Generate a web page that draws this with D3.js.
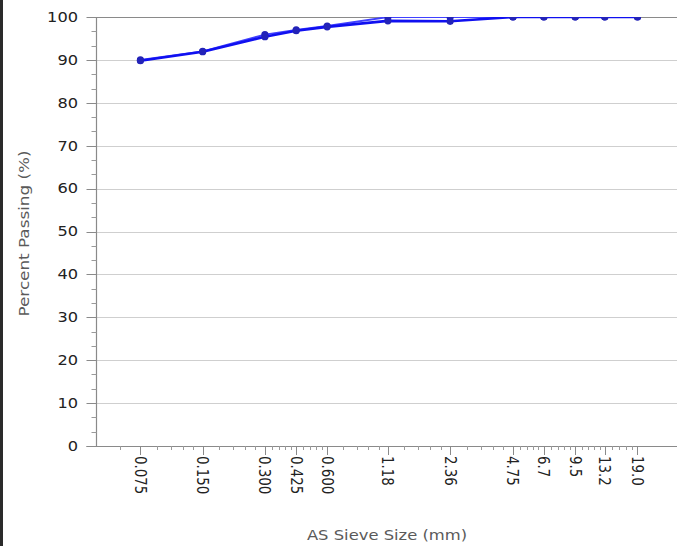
<!DOCTYPE html>
<html>
<head>
<meta charset="utf-8">
<script src="https://cdn.jsdelivr.net/npm/d3@7"></script>
<style>
  html, body { margin: 0; padding: 0; background: #ffffff; }
  svg { display: block; }
  text { font-family: "DejaVu Sans", Verdana, sans-serif; }
</style>
</head>
<body>
<svg id="chart" width="677" height="546"></svg>
<script>
// AS sieve sizes (mm) and percent passing for the two test runs
const sieveSizes = [0.075, 0.150, 0.300, 0.425, 0.600, 1.18, 2.36, 4.75, 6.7, 9.5, 13.2, 19.0];
const sieveLabels = ["0.075", "0.150", "0.300", "0.425", "0.600", "1.18", "2.36", "4.75", "6.7", "9.5", "13.2", "19.0"];
const passingA = [89.8, 91.9, 95.4, 96.8, 97.7, 99.1, 99.0, 100, 100, 100, 100, 100];
const passingB = [90.0, 92.0, 95.9, 97.0, 97.9, 100, 100, 100, 100, 100, 100, 100];
const yTicks = [0, 10, 20, 30, 40, 50, 60, 70, 80, 90, 100];

const svg = d3.select("#chart");
const W = 677, H = 546;
const plotLeft = 96.5, plotTop = 17, plotBottom = 446;

const x = d3.scaleLog().domain([0.046, 30]).range([plotLeft, plotLeft + 206.8 * Math.log10(30 / 0.046)]);
const y = d3.scaleLinear().domain([0, 100]).range([plotBottom, plotTop]);
const plotRight = x.range()[1];

// dark frame edge on the left
svg.append("rect").attr("x", 0).attr("y", 0).attr("width", 3).attr("height", H).attr("fill", "#2a2a2a");

// horizontal gridlines
svg.append("g").selectAll("line").data(yTicks.filter(d => d > 0 && d < 100)).join("line")
  .attr("x1", plotLeft).attr("x2", plotRight)
  .attr("y1", d => Math.round(y(d)) + 0.5).attr("y2", d => Math.round(y(d)) + 0.5)
  .attr("stroke", "#cfcfcf").attr("stroke-width", 1);

// top border of the plot
svg.append("line").attr("x1", plotLeft).attr("x2", plotRight)
  .attr("y1", y(100) + 0.5).attr("y2", y(100) + 0.5)
  .attr("stroke", "#8a8a8a").attr("stroke-width", 1.2);

// y axis with minor ticks at thirds
const yMinor = [];
for (let v = 0; v < 100; v += 10) { yMinor.push(v + 10 / 3, v + 20 / 3); }
const yAxis = svg.append("g");
yAxis.append("line").attr("x1", plotLeft).attr("x2", plotLeft).attr("y1", plotTop).attr("y2", plotBottom)
  .attr("stroke", "#8a8a8a").attr("stroke-width", 1.2);
yAxis.selectAll("line.maj").data(yTicks).join("line").attr("class", "maj")
  .attr("x1", plotLeft - 10).attr("x2", plotLeft)
  .attr("y1", d => Math.round(y(d)) + 0.5).attr("y2", d => Math.round(y(d)) + 0.5)
  .attr("stroke", "#8a8a8a");
yAxis.selectAll("line.min").data(yMinor).join("line").attr("class", "min")
  .attr("x1", plotLeft - 5).attr("x2", plotLeft)
  .attr("y1", d => Math.round(y(d)) + 0.5).attr("y2", d => Math.round(y(d)) + 0.5)
  .attr("stroke", "#9a9a9a");
yAxis.selectAll("text").data(yTicks).join("text")
  .attr("transform", d => `translate(78,${y(d)}) scale(1.2,1)`)
  .attr("text-anchor", "end").attr("dy", "0.36em")
  .attr("font-size", 13.5).attr("fill", "#222")
  .text(d => d);

// x axis: line, major ticks at sieve sizes, minor ticks splitting each gap in five
const xMinor = [0.06];
for (let i = 0; i < sieveSizes.length - 1; i++) {
  const a = sieveSizes[i], b = sieveSizes[i + 1];
  for (let k = 1; k < 5; k++) xMinor.push(a + (b - a) * k / 5);
}
const xAxis = svg.append("g");
xAxis.append("line").attr("x1", plotLeft - 10).attr("x2", W).attr("y1", plotBottom + 0.5).attr("y2", plotBottom + 0.5)
  .attr("stroke", "#8a8a8a").attr("stroke-width", 1.2);
xAxis.selectAll("line.maj").data(sieveSizes).join("line").attr("class", "maj")
  .attr("x1", d => Math.round(x(d)) + 0.5).attr("x2", d => Math.round(x(d)) + 0.5)
  .attr("y1", plotBottom).attr("y2", plotBottom + 9)
  .attr("stroke", "#8a8a8a");
xAxis.selectAll("line.min").data(xMinor).join("line").attr("class", "min")
  .attr("x1", d => Math.round(x(d)) + 0.5).attr("x2", d => Math.round(x(d)) + 0.5)
  .attr("y1", plotBottom).attr("y2", plotBottom + 4)
  .attr("stroke", "#9a9a9a");
xAxis.selectAll("text").data(sieveSizes).join("text")
  .attr("transform", d => `translate(${x(d)},456) rotate(90) scale(1.03,1.2)`)
  .attr("text-anchor", "start").attr("dy", "0.36em")
  .attr("font-size", 13).attr("fill", "#222")
  .text((d, i) => sieveLabels[i]);

// axis titles
svg.append("text")
  .attr("transform", `translate(24,${(plotTop + plotBottom) / 2 + 2}) rotate(-90) scale(1.2,1)`)
  .attr("text-anchor", "middle").attr("dy", "0.36em")
  .attr("font-size", 14).attr("fill", "#5a5a5a")
  .text("Percent Passing (%)");
svg.append("text")
  .attr("transform", `translate(387,535) scale(1.17,1)`)
  .attr("text-anchor", "middle").attr("dy", "0.36em")
  .attr("font-size", 14).attr("fill", "#5a5a5a")
  .text("AS Sieve Size (mm)");

// plotted curves, clipped to the plot area
svg.append("clipPath").attr("id", "plot-clip")
  .append("rect").attr("x", plotLeft).attr("y", plotTop).attr("width", plotRight - plotLeft).attr("height", plotBottom - plotTop);
const plot = svg.append("g").attr("clip-path", "url(#plot-clip)");

const line = d3.line().x(d => x(d[0])).y(d => y(d[1]));
[passingB, passingA].forEach((vals, si) => {
  const pts = sieveSizes.map((s, i) => [s, vals[i]]);
  plot.append("path").datum(pts).attr("d", line)
    .attr("fill", "none").attr("stroke", si === 0 ? "#4040ff" : "#1010f0")
    .attr("stroke-width", si === 0 ? 1.8 : 2.6).attr("stroke-linejoin", "round");
  plot.selectAll(null).data(pts).join("circle")
    .attr("cx", d => x(d[0])).attr("cy", d => y(d[1])).attr("r", 3.6)
    .attr("fill", "#2323b8");
});
</script>
</body>
</html>
